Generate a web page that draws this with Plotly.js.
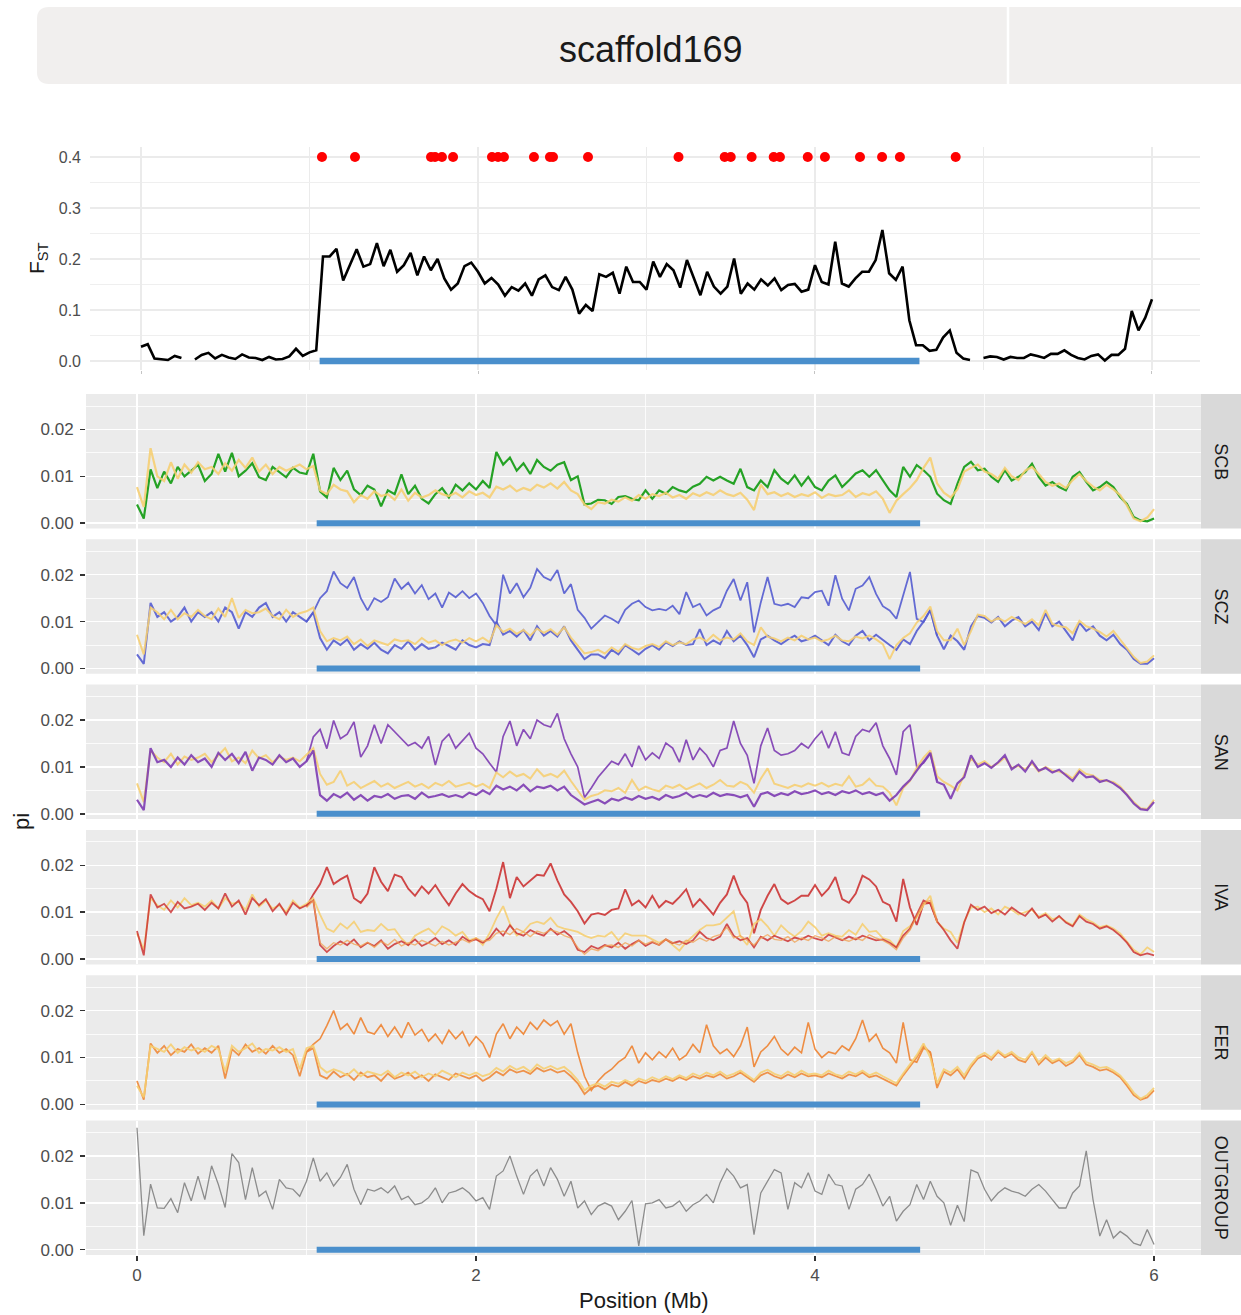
<!DOCTYPE html>
<html>
<head>
<meta charset="utf-8">
<script src="https://cdn.plot.ly/plotly-3.0.1.min.js"></script>
<style>html,body{margin:0;padding:0;background:#fff;}</style>
</head>
<body>
<div id="chart" style="width:1241px;height:1315px;"></div>
<script>
// ---------------------------------------------------------------
// Data: sliding windows of 0.04 Mb along scaffold169
// ---------------------------------------------------------------
const STEP_MB = 0.04;
const HIGH_START_INDEX = 25;           // inversion-haplotype lines start at 1.00 Mb
const scaffoldName = 'scaffold169';
const inversionMb = [1.06, 4.62];
const fstOutlierLevel = 0.4;
const fstOutlierMb = [1.074,1.270,1.721,1.745,1.786,1.852,2.083,2.119,2.154,2.332,2.427,2.445,2.653,
  3.190,3.464,3.500,3.624,3.755,3.792,3.957,4.059,4.267,4.398,4.504,4.835];

const fstByWindow = [
  0.028,0.033,0.005,0.004,0.002,0.010,0.006,null,0.003,0.012,
  0.016,0.005,0.012,0.007,0.004,0.013,0.007,0.006,0.002,0.008,
  0.003,0.004,0.009,0.024,0.010,0.017,0.021,0.205,0.205,0.220,
  0.158,0.190,0.219,0.185,0.190,0.231,0.186,0.218,0.175,0.188,
  0.212,0.168,0.205,0.178,0.200,0.162,0.140,0.152,0.186,0.193,
  0.175,0.152,0.163,0.150,0.128,0.145,0.138,0.152,0.128,0.160,
  0.168,0.145,0.139,0.165,0.140,0.093,0.110,0.098,0.170,0.165,
  0.173,0.132,0.185,0.155,0.155,0.140,0.195,0.165,0.190,0.178,
  0.144,0.198,0.165,0.129,0.175,0.146,0.132,0.146,0.201,0.132,
  0.152,0.140,0.160,0.148,0.162,0.139,0.149,0.151,0.136,0.140,
  0.188,0.155,0.150,0.234,0.152,0.146,0.162,0.175,0.175,0.198,
  0.257,0.172,0.159,0.185,0.080,0.031,0.031,0.020,0.022,0.046,
  0.060,0.016,0.005,0.002,null,0.006,0.009,0.008,0.003,0.008,
  0.006,0.006,0.013,0.010,0.006,0.014,0.014,0.021,0.012,0.006,
  0.003,0.010,0.013,0.001,0.012,0.012,0.024,0.098,0.060,0.085,
  0.121];

// ---- SCB ----
const piScb = [
  .0040,.0010,.0115,.0075,.0110,.0085,.0120,.0100,.0112,.0125,
  .0090,.0105,.0148,.0110,.0150,.0100,.0112,.0128,.0098,.0092,
  .0120,.0108,.0098,.0118,.0108,.0105,.0148,.0068,.0055,.0118,
  .0092,.0112,.0072,.0060,.0080,.0072,.0036,.0070,.0062,.0104,
  .0062,.0080,.0052,.0042,.0062,.0075,.0055,.0082,.0070,.0085,
  .0072,.0090,.0075,.0152,.0125,.0140,.0112,.0128,.0105,.0135,
  .0120,.0112,.0125,.0130,.0092,.0100,.0040,.0042,.0050,.0049,
  .0041,.0056,.0058,.0052,.0049,.0070,.0052,.0070,.0063,.0077,
  .0070,.0066,.0078,.0084,.0099,.0091,.0099,.0091,.0084,.0116,
  .0077,.0070,.0091,.0077,.0113,.0095,.0084,.0102,.0080,.0099,
  .0077,.0070,.0091,.0102,.0077,.0091,.0106,.0113,.0099,.0113,
  .0091,.0070,.0056,.0120,.0099,.0124,.0113,.0099,.0063,.0049,
  .0041,.0084,.0120,.0131,.0113,.0116,.0099,.0088,.0113,.0091,
  .0099,.0109,.0127,.0099,.0080,.0088,.0077,.0070,.0099,.0109,
  .0088,.0070,.0077,.0088,.0077,.0056,.0041,.0013,.0006,.0004,
  .0010];
const piScbRef = [
  .0077,.0035,.0160,.0100,.0090,.0130,.0095,.0125,.0108,.0130,
  .0115,.0120,.0105,.0128,.0112,.0135,.0118,.0140,.0110,.0125,
  .0105,.0120,.0112,.0118,.0125,.0115,.0122,.0070,.0062,.0082,
  .0072,.0068,.0045,.0060,.0052,.0068,.0058,.0062,.0050,.0072,
  .0048,.0065,.0055,.0060,.0070,.0062,.0058,.0065,.0055,.0068,
  .0060,.0065,.0055,.0078,.0072,.0080,.0068,.0075,.0070,.0082,
  .0076,.0085,.0074,.0088,.0070,.0062,.0040,.0030,.0045,.0042,
  .0050,.0046,.0055,.0048,.0060,.0052,.0062,.0058,.0065,.0055,
  .0060,.0052,.0064,.0058,.0066,.0060,.0070,.0062,.0058,.0065,
  .0050,.0028,.0082,.0062,.0066,.0058,.0064,.0056,.0062,.0058,
  .0066,.0054,.0062,.0058,.0060,.0070,.0056,.0064,.0060,.0068,
  .0052,.0022,.0048,.0062,.0075,.0092,.0118,.0140,.0085,.0065,
  .0055,.0072,.0110,.0118,.0125,.0110,.0105,.0095,.0118,.0100,
  .0092,.0112,.0120,.0105,.0088,.0080,.0085,.0075,.0092,.0105,
  .0090,.0078,.0070,.0082,.0072,.0060,.0038,.0010,.0004,.0012,
  .0030];

// ---- SCZ ----
const piSczLow = [
  .0030,.0010,.0140,.0110,.0120,.0100,.0110,.0130,.0100,.0120,
  .0110,.0120,.0100,.0130,.0120,.0085,.0120,.0110,.0130,.0140,
  .0110,.0120,.0100,.0120,.0110,.0100,.0120,.0065,.0040,.0060,
  .0050,.0062,.0040,.0052,.0042,.0055,.0040,.0032,.0050,.0042,
  .0058,.0040,.0052,.0042,.0045,.0055,.0048,.0040,.0060,.0050,
  .0045,.0052,.0050,.0100,.0072,.0080,.0068,.0082,.0060,.0090,
  .0070,.0080,.0068,.0090,.0060,.0040,.0020,.0030,.0030,.0022,
  .0040,.0030,.0050,.0040,.0030,.0042,.0050,.0040,.0056,.0048,
  .0058,.0050,.0052,.0084,.0050,.0060,.0052,.0080,.0058,.0070,
  .0050,.0024,.0062,.0070,.0060,.0052,.0062,.0070,.0058,.0062,
  .0070,.0060,.0050,.0072,.0058,.0050,.0070,.0080,.0060,.0072,
  .0060,.0050,.0040,.0062,.0052,.0080,.0100,.0125,.0070,.0041,
  .0070,.0058,.0040,.0090,.0112,.0108,.0098,.0110,.0090,.0102,
  .0110,.0090,.0100,.0082,.0118,.0090,.0100,.0080,.0060,.0098,
  .0080,.0090,.0070,.0060,.0072,.0052,.0040,.0020,.0010,.0010,
  .0022];
const piSczHigh = [
  .0100,.0120,.0150,.0165,.0207,.0182,.0172,.0195,.0150,.0124,
  .0150,.0142,.0152,.0192,.0170,.0183,.0160,.0178,.0148,.0160,
  .0130,.0162,.0152,.0165,.0150,.0160,.0140,.0112,.0092,.0200,
  .0160,.0182,.0152,.0172,.0212,.0195,.0188,.0210,.0160,.0180,
  .0125,.0108,.0085,.0100,.0113,.0106,.0097,.0125,.0138,.0145,
  .0131,.0124,.0127,.0124,.0134,.0116,.0163,.0131,.0138,.0113,
  .0124,.0131,.0166,.0191,.0145,.0184,.0077,.0141,.0195,.0138,
  .0134,.0138,.0131,.0152,.0150,.0163,.0166,.0134,.0199,.0149,
  .0124,.0170,.0177,.0195,.0159,.0133,.0124,.0106,.0159,.0206,
  .0106,.0099,.0125,.0070];
const piSczRef = [
  .0072,.0030,.0130,.0120,.0105,.0125,.0105,.0118,.0110,.0125,
  .0112,.0105,.0128,.0110,.0150,.0108,.0125,.0118,.0120,.0128,
  .0112,.0105,.0125,.0110,.0118,.0122,.0130,.0080,.0058,.0065,
  .0060,.0068,.0052,.0062,.0048,.0060,.0055,.0050,.0062,.0058,
  .0060,.0052,.0065,.0055,.0060,.0050,.0058,.0062,.0055,.0065,
  .0058,.0066,.0056,.0092,.0078,.0085,.0074,.0082,.0070,.0085,
  .0076,.0084,.0072,.0088,.0066,.0050,.0032,.0035,.0040,.0032,
  .0045,.0036,.0052,.0044,.0040,.0048,.0052,.0046,.0058,.0050,
  .0056,.0052,.0062,.0066,.0058,.0072,.0060,.0066,.0062,.0075,
  .0058,.0050,.0088,.0068,.0064,.0058,.0066,.0060,.0070,.0062,
  .0066,.0058,.0062,.0070,.0060,.0058,.0068,.0064,.0070,.0062,
  .0052,.0020,.0050,.0065,.0075,.0098,.0112,.0132,.0080,.0060,
  .0060,.0085,.0050,.0080,.0115,.0112,.0100,.0108,.0100,.0110,
  .0102,.0095,.0105,.0092,.0125,.0095,.0090,.0088,.0075,.0102,
  .0090,.0085,.0078,.0068,.0080,.0062,.0045,.0025,.0012,.0015,
  .0028];

// ---- SAN ----
const piSanLow = [
  .0030,.0008,.0140,.0110,.0115,.0100,.0120,.0105,.0125,.0110,
  .0118,.0100,.0130,.0115,.0128,.0108,.0132,.0092,.0120,.0115,
  .0105,.0125,.0110,.0118,.0100,.0112,.0135,.0040,.0028,.0042,
  .0035,.0045,.0030,.0040,.0028,.0038,.0035,.0042,.0032,.0038,
  .0040,.0032,.0045,.0035,.0038,.0042,.0036,.0040,.0035,.0045,
  .0040,.0050,.0042,.0060,.0052,.0058,.0050,.0062,.0048,.0058,
  .0055,.0060,.0050,.0058,.0040,.0030,.0020,.0025,.0030,.0022,
  .0032,.0028,.0035,.0030,.0038,.0032,.0036,.0030,.0040,.0034,
  .0038,.0045,.0035,.0040,.0036,.0045,.0038,.0042,.0040,.0035,
  .0040,.0015,.0042,.0046,.0038,.0044,.0040,.0048,.0042,.0045,
  .0050,.0042,.0046,.0040,.0048,.0044,.0050,.0042,.0046,.0040,
  .0045,.0028,.0040,.0058,.0072,.0092,.0110,.0130,.0068,.0062,
  .0032,.0065,.0078,.0125,.0100,.0108,.0098,.0110,.0125,.0095,
  .0105,.0090,.0112,.0092,.0098,.0088,.0094,.0082,.0070,.0090,
  .0078,.0080,.0068,.0072,.0065,.0055,.0040,.0022,.0010,.0008,
  .0025];
const piSanHigh = [
  .0112,.0164,.0180,.0139,.0199,.0160,.0170,.0196,.0121,.0145,
  .0190,.0150,.0190,.0175,.0160,.0145,.0152,.0140,.0165,.0104,
  .0155,.0170,.0140,.0155,.0172,.0140,.0128,.0108,.0089,.0165,
  .0198,.0145,.0180,.0160,.0200,.0190,.0185,.0214,.0160,.0128,
  .0100,.0035,.0055,.0078,.0095,.0112,.0105,.0128,.0100,.0145,
  .0115,.0130,.0118,.0151,.0140,.0110,.0158,.0115,.0140,.0125,
  .0100,.0135,.0140,.0198,.0150,.0125,.0065,.0145,.0183,.0135,
  .0125,.0128,.0135,.0150,.0140,.0160,.0176,.0140,.0175,.0130,
  .0125,.0165,.0180,.0175,.0194,.0145,.0118,.0083,.0175,.0190,
  .0100,.0108,.0128,.0070];
const piSanRef = [
  .0065,.0025,.0135,.0120,.0110,.0128,.0105,.0122,.0115,.0120,
  .0128,.0110,.0125,.0140,.0112,.0120,.0108,.0135,.0118,.0125,
  .0110,.0122,.0115,.0120,.0112,.0125,.0140,.0085,.0062,.0068,
  .0092,.0060,.0068,.0055,.0062,.0070,.0058,.0065,.0055,.0062,
  .0068,.0058,.0064,.0055,.0066,.0060,.0070,.0058,.0062,.0066,
  .0058,.0064,.0055,.0088,.0078,.0090,.0080,.0085,.0075,.0095,
  .0080,.0085,.0078,.0092,.0070,.0050,.0030,.0038,.0042,.0050,
  .0048,.0055,.0045,.0072,.0050,.0058,.0052,.0048,.0060,.0055,
  .0062,.0052,.0058,.0065,.0055,.0062,.0072,.0060,.0058,.0068,
  .0062,.0045,.0075,.0097,.0064,.0060,.0055,.0062,.0058,.0065,
  .0060,.0066,.0058,.0064,.0060,.0080,.0058,.0062,.0075,.0060,
  .0058,.0045,.0018,.0055,.0070,.0098,.0120,.0135,.0080,.0068,
  .0060,.0050,.0085,.0118,.0105,.0112,.0100,.0108,.0120,.0098,
  .0102,.0095,.0108,.0090,.0100,.0092,.0090,.0085,.0075,.0095,
  .0085,.0082,.0072,.0070,.0068,.0058,.0042,.0025,.0012,.0010,
  .0030];

// ---- IVA ----
const piIvaLow = [
  .0060,.0008,.0138,.0110,.0118,.0100,.0122,.0108,.0112,.0118,
  .0105,.0120,.0108,.0140,.0112,.0125,.0095,.0130,.0115,.0128,
  .0102,.0118,.0095,.0120,.0108,.0115,.0125,.0030,.0015,.0028,
  .0038,.0030,.0042,.0025,.0035,.0028,.0040,.0022,.0032,.0038,
  .0030,.0042,.0028,.0035,.0045,.0032,.0040,.0030,.0048,.0038,
  .0042,.0035,.0045,.0065,.0050,.0072,.0055,.0050,.0062,.0055,
  .0050,.0065,.0052,.0060,.0048,.0020,.0015,.0028,.0022,.0030,
  .0025,.0035,.0022,.0032,.0040,.0028,.0036,.0030,.0042,.0034,
  .0038,.0032,.0040,.0058,.0045,.0040,.0048,.0075,.0050,.0040,
  .0045,.0025,.0048,.0040,.0050,.0044,.0038,.0046,.0042,.0050,
  .0044,.0040,.0052,.0046,.0040,.0048,.0042,.0050,.0045,.0040,
  .0042,.0035,.0025,.0050,.0065,.0095,.0125,.0118,.0080,.0062,
  .0040,.0022,.0078,.0116,.0105,.0112,.0098,.0105,.0095,.0110,
  .0100,.0092,.0108,.0088,.0095,.0080,.0092,.0078,.0070,.0092,
  .0080,.0075,.0065,.0070,.0062,.0050,.0035,.0015,.0008,.0012,
  .0008];
const piIvaHigh = [
  .0112,.0138,.0160,.0196,.0160,.0170,.0178,.0130,.0120,.0140,
  .0196,.0165,.0145,.0180,.0175,.0150,.0135,.0155,.0140,.0158,
  .0135,.0115,.0140,.0160,.0145,.0135,.0128,.0102,.0150,.0207,
  .0130,.0175,.0155,.0168,.0180,.0178,.0204,.0168,.0138,.0122,
  .0102,.0076,.0095,.0098,.0094,.0105,.0108,.0149,.0115,.0125,
  .0110,.0135,.0110,.0124,.0118,.0132,.0149,.0112,.0128,.0112,
  .0095,.0120,.0138,.0178,.0140,.0120,.0055,.0105,.0135,.0160,
  .0128,.0118,.0125,.0135,.0135,.0158,.0135,.0150,.0175,.0128,
  .0120,.0140,.0178,.0170,.0155,.0122,.0115,.0080,.0171,.0110,
  .0073,.0118,.0120,.0082];
const piIvaRef = [
  .0055,.0020,.0130,.0115,.0105,.0125,.0110,.0130,.0115,.0120,
  .0112,.0125,.0108,.0130,.0118,.0122,.0105,.0138,.0112,.0125,
  .0108,.0115,.0100,.0125,.0110,.0118,.0130,.0095,.0065,.0058,
  .0076,.0065,.0080,.0058,.0062,.0060,.0075,.0062,.0064,.0044,
  .0030,.0050,.0058,.0065,.0052,.0070,.0062,.0050,.0058,.0040,
  .0045,.0030,.0055,.0087,.0113,.0075,.0050,.0058,.0075,.0080,
  .0075,.0088,.0070,.0065,.0062,.0058,.0050,.0045,.0050,.0048,
  .0058,.0040,.0055,.0050,.0050,.0050,.0042,.0035,.0042,.0030,
  .0018,.0036,.0050,.0062,.0072,.0072,.0075,.0088,.0102,.0048,
  .0030,.0075,.0085,.0070,.0050,.0072,.0058,.0048,.0060,.0080,
  .0068,.0050,.0055,.0050,.0048,.0062,.0052,.0075,.0058,.0060,
  .0045,.0040,.0025,.0060,.0070,.0090,.0115,.0135,.0080,.0065,
  .0058,.0035,.0080,.0110,.0112,.0100,.0108,.0095,.0112,.0105,
  .0095,.0100,.0105,.0090,.0098,.0085,.0090,.0080,.0072,.0095,
  .0085,.0078,.0068,.0072,.0065,.0055,.0038,.0020,.0010,.0025,
  .0015];
const piIvaRef2 = [
  .0110,.0125,.0035,.0022,.0035,.0030,.0040,.0032,.0028,.0036,
  .0025,.0038,.0030,.0042,.0028,.0035,.0030,.0040,.0034,.0028,
  .0038,.0030,.0036,.0042,.0035,.0045,.0038,.0040,.0055,.0060,
  .0052,.0065,.0058,.0048,.0060,.0055,.0062,.0058,.0050,.0045,
  .0025,.0010,.0022,.0018,.0028,.0030,.0025,.0035,.0028,.0040,
  .0032,.0038,.0030,.0042,.0035,.0030,.0040,.0036,.0045,.0038,
  .0048,.0052,.0068,.0045,.0050,.0040,.0030,.0045,.0052,.0042,
  .0040,.0048,.0036,.0045,.0040,.0050,.0045,.0038,.0048,.0042,
  .0038,.0045,.0040,.0052,.0045,.0040,.0032,.0020,.0045,.0062,
  .0090,.0120,.0125,.0078];

// ---- FER ----
const piFerLow = [
  .0050,.0010,.0130,.0110,.0125,.0105,.0118,.0112,.0128,.0108,
  .0120,.0110,.0125,.0055,.0118,.0105,.0128,.0112,.0120,.0108,
  .0125,.0110,.0118,.0105,.0060,.0112,.0120,.0062,.0055,.0070,
  .0058,.0065,.0052,.0068,.0058,.0062,.0050,.0066,.0055,.0060,
  .0068,.0055,.0062,.0050,.0064,.0058,.0052,.0066,.0060,.0055,
  .0062,.0050,.0058,.0070,.0062,.0075,.0068,.0072,.0065,.0078,
  .0070,.0075,.0068,.0072,.0060,.0045,.0022,.0035,.0040,.0032,
  .0042,.0038,.0048,.0040,.0050,.0045,.0052,.0048,.0055,.0050,
  .0058,.0052,.0060,.0055,.0062,.0058,.0065,.0055,.0060,.0068,
  .0058,.0048,.0062,.0068,.0060,.0055,.0064,.0058,.0066,.0060,
  .0062,.0058,.0066,.0060,.0055,.0064,.0060,.0068,.0058,.0062,
  .0055,.0048,.0040,.0062,.0080,.0100,.0125,.0110,.0035,.0070,
  .0062,.0075,.0055,.0080,.0098,.0105,.0095,.0112,.0100,.0108,
  .0095,.0090,.0110,.0085,.0100,.0088,.0095,.0082,.0090,.0105,
  .0085,.0080,.0072,.0075,.0068,.0058,.0040,.0020,.0010,.0015,
  .0030];
const piFerHigh = [
  .0112,.0128,.0140,.0168,.0200,.0160,.0172,.0150,.0185,.0155,
  .0150,.0170,.0145,.0165,.0142,.0175,.0148,.0160,.0135,.0150,
  .0130,.0158,.0140,.0155,.0125,.0145,.0130,.0100,.0150,.0172,
  .0140,.0165,.0150,.0175,.0160,.0180,.0168,.0178,.0150,.0172,
  .0110,.0060,.0030,.0050,.0065,.0075,.0090,.0100,.0125,.0088,
  .0110,.0095,.0112,.0100,.0120,.0095,.0105,.0128,.0110,.0170,
  .0125,.0108,.0118,.0102,.0125,.0165,.0080,.0112,.0125,.0145,
  .0118,.0105,.0122,.0110,.0175,.0118,.0100,.0112,.0108,.0125,
  .0115,.0140,.0180,.0135,.0150,.0120,.0110,.0088,.0175,.0095,
  .0090,.0120,.0112,.0040];
const piFerRef = [
  .0040,.0015,.0125,.0118,.0112,.0128,.0110,.0122,.0115,.0120,
  .0112,.0125,.0118,.0070,.0125,.0112,.0120,.0130,.0110,.0118,
  .0115,.0122,.0112,.0118,.0075,.0120,.0125,.0080,.0068,.0075,
  .0070,.0062,.0075,.0060,.0070,.0066,.0062,.0072,.0058,.0068,
  .0062,.0070,.0058,.0066,.0060,.0072,.0065,.0058,.0068,.0062,
  .0068,.0060,.0065,.0078,.0070,.0082,.0074,.0080,.0070,.0085,
  .0076,.0082,.0075,.0080,.0068,.0052,.0030,.0040,.0045,.0038,
  .0048,.0044,.0052,.0046,.0055,.0050,.0058,.0052,.0060,.0054,
  .0062,.0056,.0066,.0060,.0068,.0062,.0070,.0060,.0065,.0072,
  .0062,.0052,.0068,.0074,.0065,.0060,.0070,.0062,.0072,.0064,
  .0066,.0062,.0072,.0064,.0060,.0070,.0064,.0072,.0062,.0068,
  .0060,.0052,.0045,.0066,.0085,.0105,.0130,.0100,.0045,.0075,
  .0068,.0080,.0062,.0085,.0102,.0110,.0100,.0115,.0104,.0112,
  .0100,.0095,.0112,.0090,.0105,.0092,.0098,.0088,.0094,.0110,
  .0090,.0085,.0078,.0080,.0072,.0062,.0045,.0025,.0012,.0020,
  .0035];

// ---- OUTGROUP ----
const piOutgroup = [
  .0260,.0030,.0140,.0089,.0088,.0109,.0079,.0143,.0104,.0157,
  .0107,.0179,.0139,.0090,.0205,.0186,.0107,.0175,.0114,.0125,
  .0086,.0150,.0132,.0129,.0114,.0146,.0196,.0146,.0164,.0136,
  .0154,.0182,.0129,.0096,.0129,.0125,.0132,.0121,.0136,.0107,
  .0114,.0096,.0100,.0111,.0132,.0100,.0121,.0125,.0132,.0121,
  .0104,.0111,.0086,.0157,.0168,.0200,.0157,.0118,.0157,.0171,
  .0136,.0175,.0150,.0114,.0146,.0089,.0104,.0075,.0093,.0100,
  .0093,.0064,.0082,.0105,.0008,.0098,.0100,.0107,.0089,.0093,
  .0104,.0082,.0096,.0104,.0118,.0100,.0143,.0173,.0157,.0132,
  .0139,.0032,.0121,.0146,.0171,.0164,.0086,.0143,.0132,.0164,
  .0125,.0118,.0161,.0139,.0136,.0086,.0129,.0139,.0161,.0129,
  .0093,.0114,.0061,.0082,.0096,.0139,.0107,.0146,.0114,.0100,
  .0052,.0095,.0060,.0170,.0164,.0129,.0104,.0121,.0132,.0125,
  .0121,.0114,.0129,.0139,.0125,.0107,.0089,.0089,.0121,.0136,
  .0211,.0107,.0029,.0064,.0025,.0039,.0029,.0014,.0009,.0043,
  .0011];

// ---------------------------------------------------------------
// Styling
// ---------------------------------------------------------------
const YELLOW = 'rgba(246,206,112,0.88)';
const panels = [
  {label: 'SCB', lines: [
    {v: piScb, c: 'rgba(16,154,16,0.9)', w: 2.2},
    {v: piScbRef, c: YELLOW, w: 2.2}]},
  {label: 'SCZ', lines: [
    {v: piSczHigh, start: HIGH_START_INDEX, c: 'rgba(84,92,208,0.9)', w: 1.8},
    {v: piSczLow, c: 'rgba(84,92,208,0.9)', w: 2.0},
    {v: piSczRef, c: YELLOW, w: 2.0}]},
  {label: 'SAN', lines: [
    {v: piSanHigh, start: HIGH_START_INDEX, c: 'rgba(125,60,178,0.9)', w: 1.7},
    {v: piSanRef, c: YELLOW, w: 2.0},
    {v: piSanLow, c: 'rgba(125,60,178,0.9)', w: 2.2}]},
  {label: 'IVA', lines: [
    {v: piIvaHigh, start: HIGH_START_INDEX, c: 'rgba(204,52,52,0.9)', w: 1.9},
    {v: piIvaRef, c: YELLOW, w: 1.8},
    {v: piIvaLow, c: 'rgba(204,52,52,0.85)', w: 1.8},
    {v: piIvaRef2, start: HIGH_START_INDEX, c: 'rgba(242,160,80,0.75)', w: 1.4}]},
  {label: 'FER', lines: [
    {v: piFerHigh, start: HIGH_START_INDEX, c: 'rgba(238,136,58,0.95)', w: 1.6},
    {v: piFerLow, c: 'rgba(238,136,58,0.9)', w: 1.8},
    {v: piFerRef, c: YELLOW, w: 1.9}]},
  {label: 'OUTGROUP', lines: [
    {v: piOutgroup, c: '#8c8c8c', w: 1.3}]}
];

const W = 1241, H = 1315;
const fx = p => p / W;
const fy = p => 1 - p / H;
const FONT = 'Liberation Sans, Arial, Helvetica, sans-serif';
const positionsFor = (n, start) => Array.from({length: n}, (_, i) => +(((start || 0) + i) * STEP_MB).toFixed(2));

const traces = [];
const shapes = [];
const annotations = [];

// ---- title strip ----
(function () {
  const x0 = fx(37), x1 = 1, yt = fy(7), yb = fy(84);
  const rx = 12 / W, ry = 12 / H;
  shapes.push({type: 'path', xref: 'paper', yref: 'paper', layer: 'below',
    path: `M ${x0 + rx},${yt} L ${x1},${yt} L ${x1},${yb} L ${x0 + rx},${yb} Q ${x0},${yb} ${x0},${yb + ry} L ${x0},${yt - ry} Q ${x0},${yt} ${x0 + rx},${yt} Z`,
    fillcolor: '#f1efee', line: {width: 0}});
  shapes.push({type: 'line', xref: 'paper', yref: 'paper', x0: fx(1008), x1: fx(1008), y0: yb, y1: yt,
    line: {color: '#ffffff', width: 2.5}});
  annotations.push({xref: 'paper', yref: 'paper', x: fx(650), y: fy(50), text: scaffoldName, showarrow: false,
    font: {family: FONT, size: 36, color: '#1a1a1a'}, xanchor: 'center', yanchor: 'middle'});
})();

// ---- FST panel ----
const layout = {
  width: W, height: H, margin: {l: 0, r: 0, t: 0, b: 0},
  paper_bgcolor: '#ffffff', plot_bgcolor: 'rgba(0,0,0,0)',
  showlegend: false, hovermode: false, font: {family: FONT},
  xaxis: {domain: [fx(90), fx(1200)], range: [-0.3027, 6.285], anchor: 'y',
    tick0: 0, dtick: 2, showgrid: true, gridcolor: '#ebebeb', gridwidth: 1.4,
    minor: {dtick: 1, showgrid: true, gridcolor: '#ebebeb', gridwidth: 1.4},
    zeroline: false, showline: false, ticks: 'outside', ticklen: 3, tickcolor: '#c4c4c4',
    showticklabels: false},
  yaxis: {domain: [fy(370), fy(147)], range: [-0.0176, 0.4196], anchor: 'x',
    tick0: 0, dtick: 0.1, tickformat: '.1f', showgrid: true, gridcolor: '#ebebeb', gridwidth: 1.4,
    minor: {dtick: 0.05, showgrid: true, gridcolor: '#efefef', gridwidth: 1},
    zeroline: false, showline: false, ticks: '', ticklabelstandoff: 8,
    tickfont: {family: FONT, size: 16, color: '#4d4d4d'}}
};

traces.push({x: inversionMb, y: [0, 0], xaxis: 'x', yaxis: 'y', mode: 'lines',
  line: {color: '#4a8fcc', width: 6.5}, hoverinfo: 'skip'});
traces.push({x: positionsFor(fstByWindow.length), y: fstByWindow, xaxis: 'x', yaxis: 'y',
  mode: 'lines', connectgaps: false, line: {color: '#000000', width: 2.6}});
traces.push({x: fstOutlierMb, y: fstOutlierMb.map(() => fstOutlierLevel), xaxis: 'x', yaxis: 'y',
  mode: 'markers', marker: {color: '#ff0000', size: 10}});

annotations.push({xref: 'paper', yref: 'paper', x: fx(38), y: fy(258), text: 'F<sub>ST</sub>',
  textangle: -90, showarrow: false, font: {family: FONT, size: 21, color: '#1a1a1a'},
  xanchor: 'center', yanchor: 'middle'});

// ---- diversity panels ----
const PANEL_TOP0 = 394, PANEL_STEP = 145.3, PANEL_H = 134.5;
panels.forEach((p, k) => {
  const n = k + 2;
  const xa = 'x' + n, ya = 'y' + n;
  const top = PANEL_TOP0 + k * PANEL_STEP, bottom = top + PANEL_H;
  const last = k === panels.length - 1;
  layout['xaxis' + n] = {domain: [fx(86), fx(1201)], range: [-0.3009, 6.277], anchor: ya,
    tick0: 0, dtick: 2, tickformat: 'd', showgrid: true, gridcolor: '#ffffff', gridwidth: 1.5,
    minor: {dtick: 1, showgrid: true, gridcolor: '#ffffff', gridwidth: 0.8},
    zeroline: false, showline: false,
    ticks: last ? 'outside' : '', ticklen: 5, tickwidth: 1.6, tickcolor: '#333333',
    showticklabels: last, tickfont: {family: FONT, size: 17, color: '#4d4d4d'}};
  layout['yaxis' + n] = {domain: [fy(bottom), fy(top)], range: [-0.00113, 0.02756], anchor: xa,
    tick0: 0, dtick: 0.01, tickformat: '.2f', showgrid: true, gridcolor: '#ffffff', gridwidth: 1.5,
    minor: {dtick: 0.005, showgrid: true, gridcolor: '#ffffff', gridwidth: 0.8},
    zeroline: false, showline: false, ticks: 'outside', ticklen: 5, tickwidth: 1.6,
    tickcolor: '#333333', ticklabelstandoff: 3,
    tickfont: {family: FONT, size: 17, color: '#4d4d4d'}};

  // grey panel background and facet strip
  shapes.push({type: 'rect', xref: 'paper', yref: 'paper', layer: 'below',
    x0: fx(86), x1: fx(1201), y0: fy(bottom), y1: fy(top), fillcolor: '#ebebeb', line: {width: 0}});
  shapes.push({type: 'rect', xref: 'paper', yref: 'paper', layer: 'below',
    x0: fx(1201), x1: 1, y0: fy(bottom), y1: fy(top), fillcolor: '#d9d9d9', line: {width: 0}});
  annotations.push({xref: 'paper', yref: 'paper', x: fx(1221), y: fy((top + bottom) / 2),
    text: p.label, textangle: 90, showarrow: false,
    font: {family: FONT, size: 18, color: '#1a1a1a'}, xanchor: 'center', yanchor: 'middle'});

  // inversion interval bar
  traces.push({x: inversionMb, y: [0, 0], xaxis: xa, yaxis: ya, mode: 'lines',
    line: {color: '#4a8fcc', width: 6}, hoverinfo: 'skip'});

  p.lines.forEach(l => {
    traces.push({x: positionsFor(l.v.length, l.start), y: l.v, xaxis: xa, yaxis: ya,
      mode: 'lines', line: {color: l.c, width: l.w}});
  });
});

annotations.push({xref: 'paper', yref: 'paper', x: fx(21), y: fy(822), text: 'pi', textangle: -90,
  showarrow: false, font: {family: FONT, size: 22, color: '#1a1a1a'}, xanchor: 'center', yanchor: 'middle'});
annotations.push({xref: 'paper', yref: 'paper', x: fx(644), y: fy(1300), text: 'Position (Mb)',
  showarrow: false, font: {family: FONT, size: 22, color: '#1a1a1a'}, xanchor: 'center', yanchor: 'middle'});

layout.shapes = shapes;
layout.annotations = annotations;

Plotly.newPlot('chart', traces, layout, {staticPlot: true, displayModeBar: false});
</script>
</body>
</html>
